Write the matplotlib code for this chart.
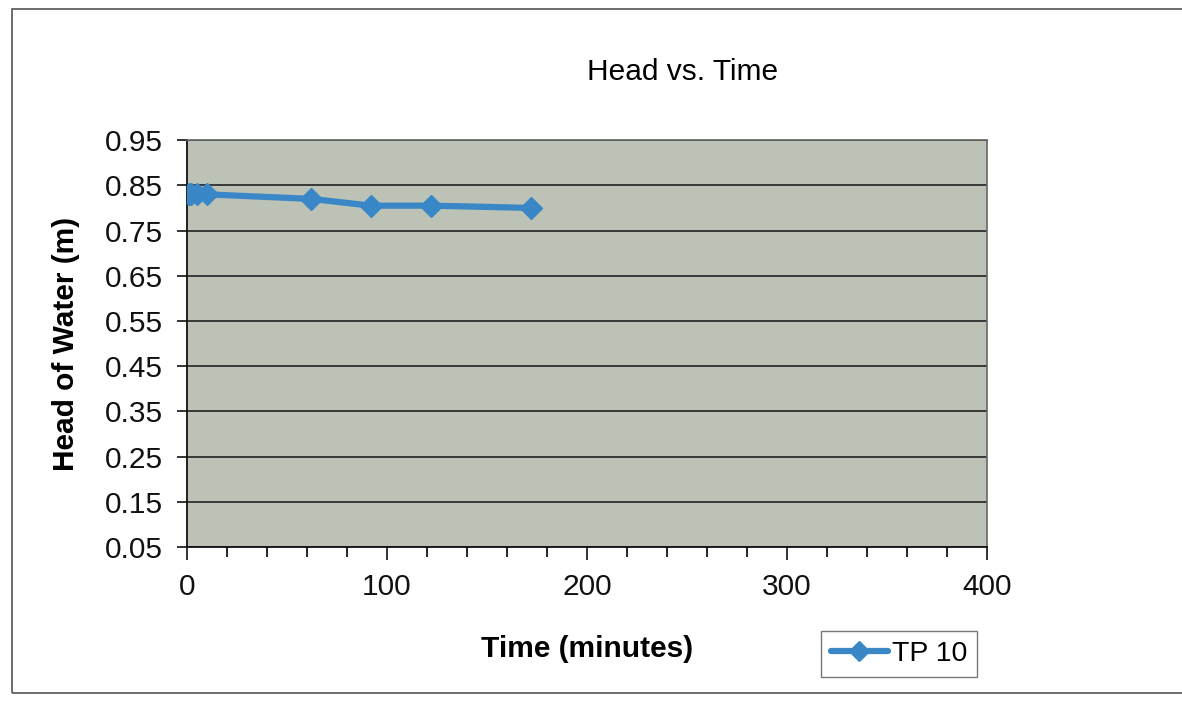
import matplotlib
matplotlib.use("Agg")
import matplotlib.pyplot as plt
from matplotlib.patches import Rectangle
from matplotlib.ticker import MultipleLocator

plt.rcParams['font.family'] = ['Liberation Sans', 'DejaVu Sans']

# Falling-head test readings
time_min = [1, 2, 5, 10, 62, 92, 122, 172]
head_m = [0.83, 0.83, 0.83, 0.83, 0.82, 0.805, 0.805, 0.80]
series_name = "TP 10"

y_ticks = [0.05, 0.15, 0.25, 0.35, 0.45, 0.55, 0.65, 0.75, 0.85, 0.95]
x_ticks = [0, 100, 200, 300, 400]

fig = plt.figure(figsize=(11.82, 7.04), dpi=100)
fig.patch.set_facecolor('white')

# outer chart border
fig.patches.append(Rectangle((0.010, 0.015), 1.2, 0.972, transform=fig.transFigure,
                             fill=False, edgecolor='#555555', linewidth=1.2))

ax = fig.add_axes([0.158, 0.223, 0.677, 0.578])
ax.set_facecolor('#BCC2B5')

ax.plot(time_min, head_m, color='#3A87C8', linewidth=4.5, marker='D',
        markersize=11, markeredgecolor='#3A87C8', label=series_name,
        solid_capstyle='round', zorder=3)

ax.set_xlim(0, 400)
ax.set_ylim(0.05, 0.95)
ax.set_yticks(y_ticks)
ax.set_yticklabels([f"{v:.2f}" for v in y_ticks])
ax.set_xticks(x_ticks)
ax.xaxis.set_minor_locator(MultipleLocator(20))

ax.yaxis.grid(True, color='#222222', linewidth=1.2)
ax.set_axisbelow(True)

for side in ['top', 'right']:
    ax.spines[side].set_color('#666666')
    ax.spines[side].set_linewidth(1.2)
for side in ['left', 'bottom']:
    ax.spines[side].set_color('#111111')
    ax.spines[side].set_linewidth(1.3)

ax.tick_params(axis='both', labelsize=21.5, colors='#111111', direction='out')
ax.tick_params(axis='y', length=7, width=1.2, pad=10)
ax.tick_params(axis='x', which='major', length=9, width=1.2, pad=10)
ax.tick_params(axis='x', which='minor', length=7, width=1.2)

ax.set_title("Head vs. Time", fontsize=21.5, pad=43, x=0.62)
ax.set_xlabel("Time (minutes)", fontsize=21.5, fontweight='bold', labelpad=24)
ax.set_ylabel("Head of Water (m)", fontsize=21.5, fontweight='bold', labelpad=18)

leg = fig.legend(loc='center', bbox_to_anchor=(0.7605, 0.0715), fontsize=20.5,
                 frameon=True, fancybox=False, edgecolor='#555555',
                 handlelength=2.0, borderpad=0.35, handletextpad=0.15)
leg.get_frame().set_linewidth(1.0)
for h in leg.legend_handles:
    h.set_markersize(10)

fig.savefig("out.png", dpi=100)
